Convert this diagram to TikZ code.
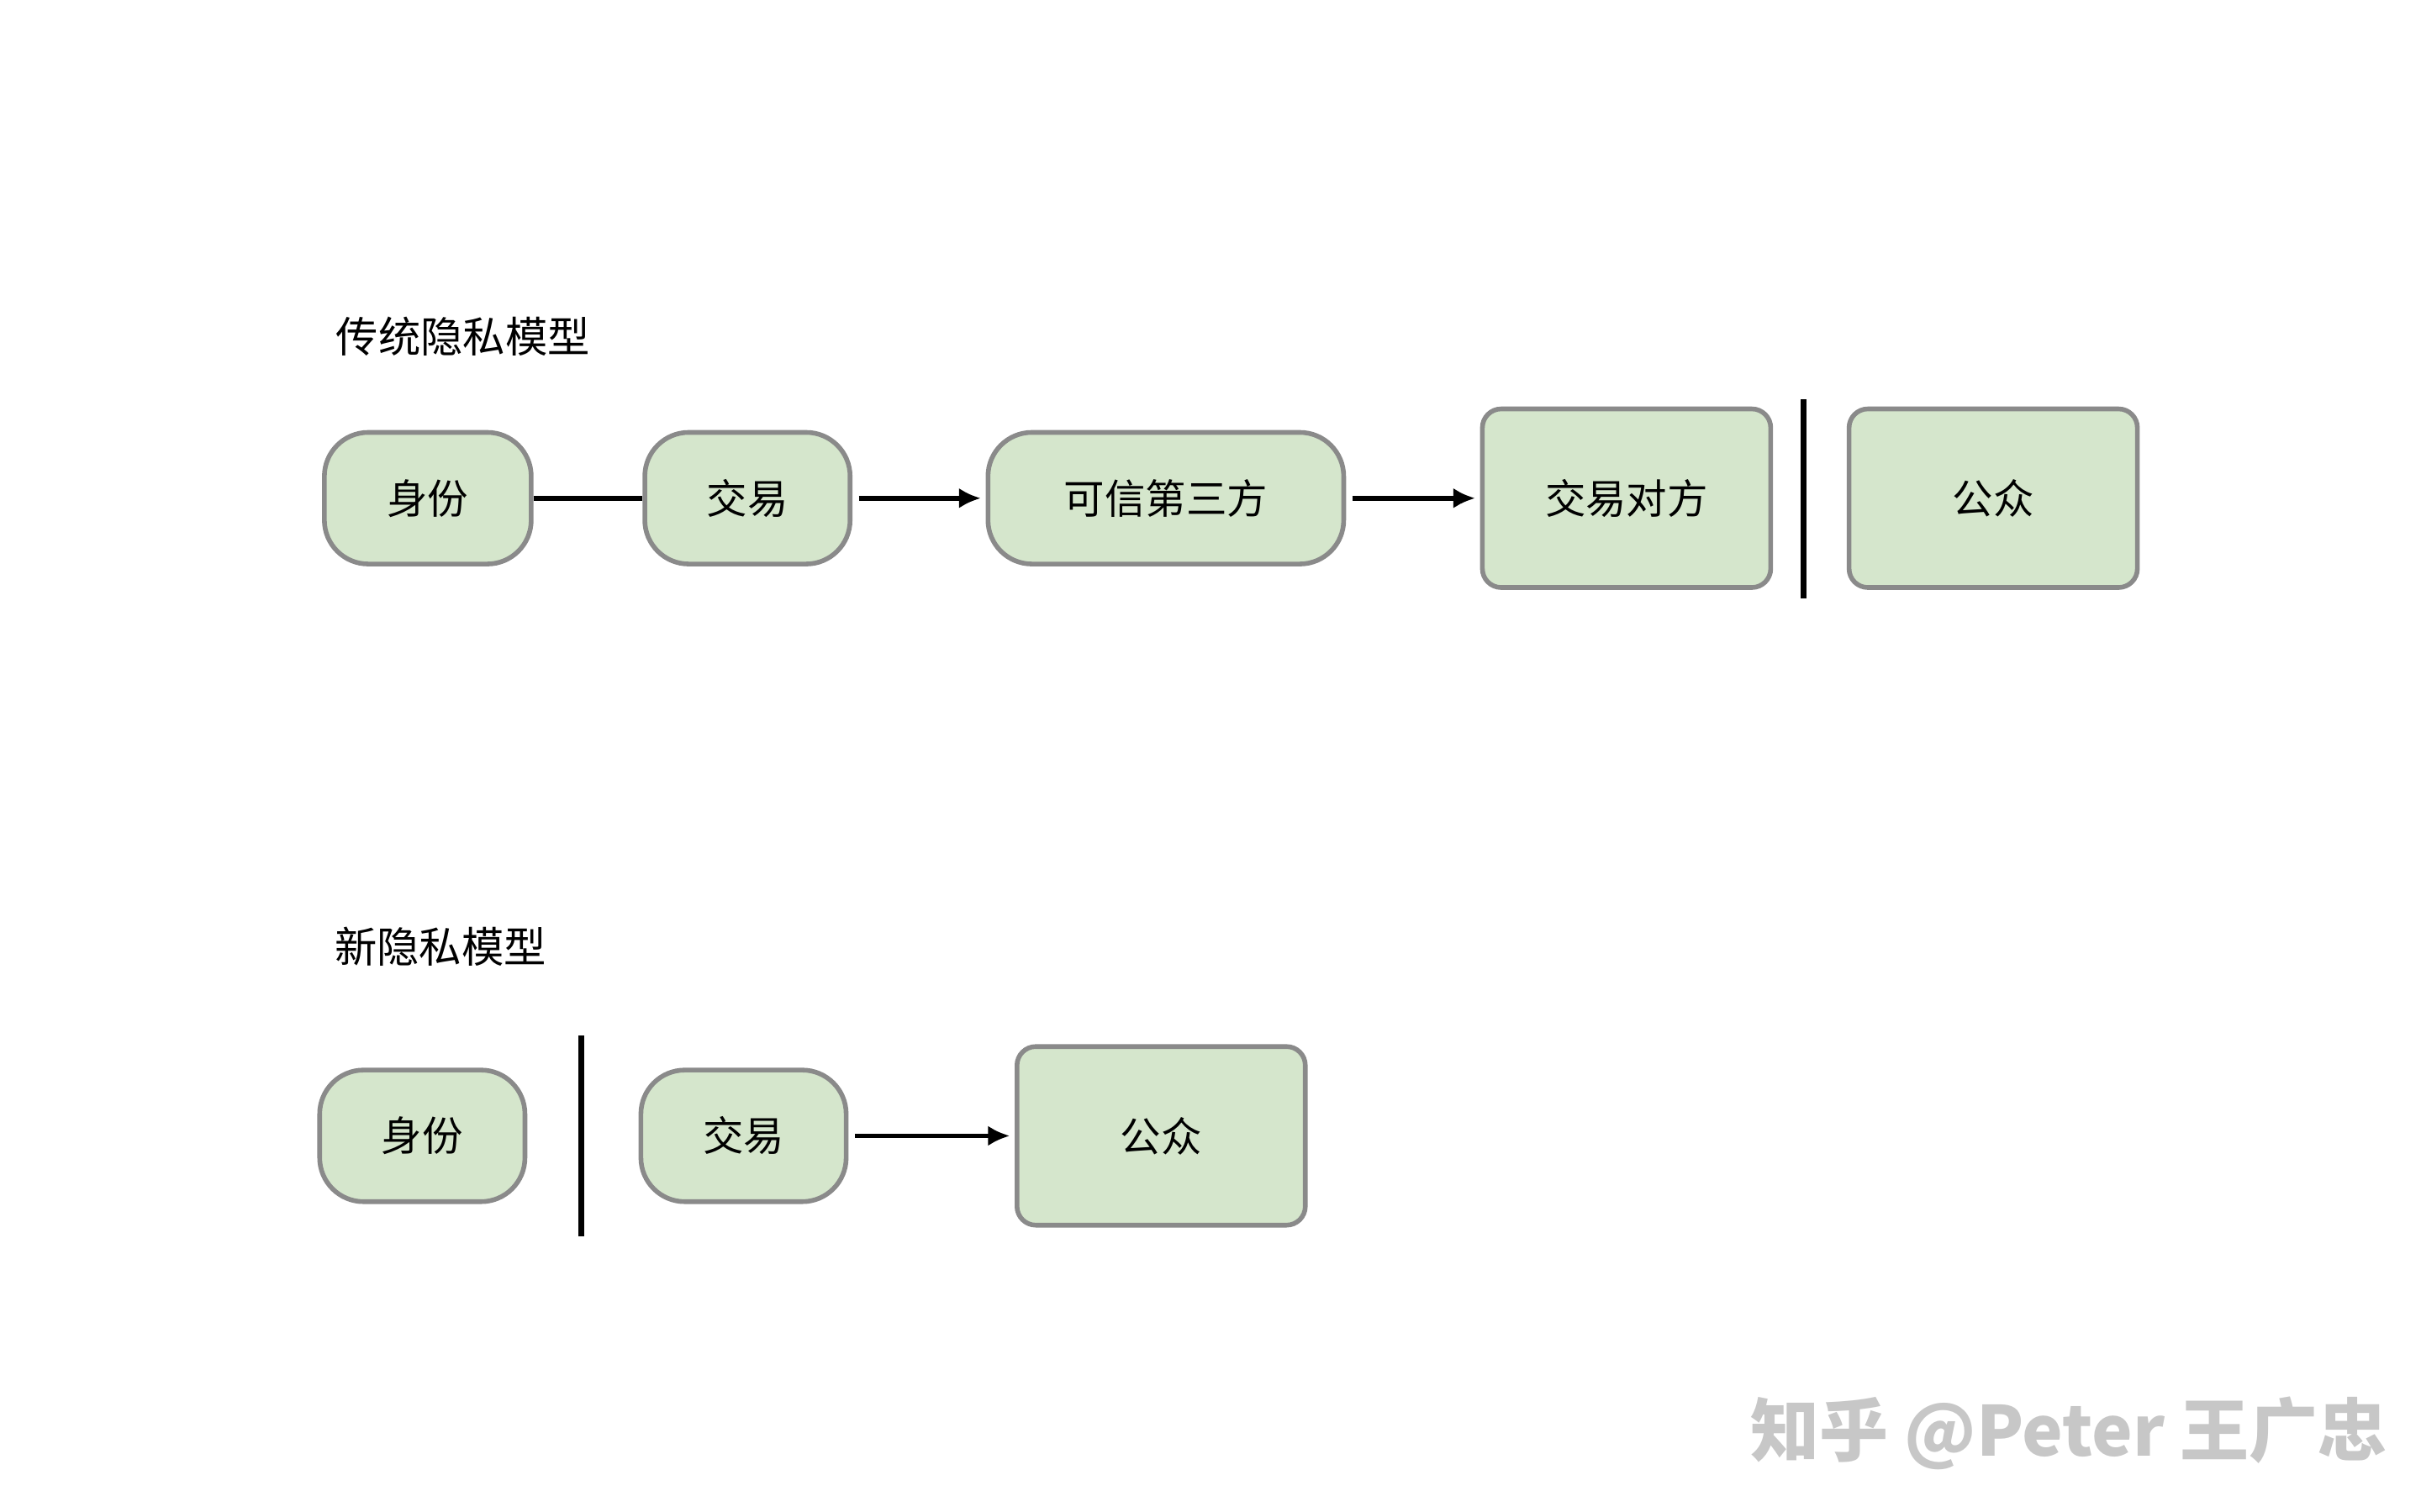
\documentclass[tikz,border=0pt]{standalone}
\usepackage{fontspec}
\setmainfont{Noto Sans CJK SC}
\usetikzlibrary{arrows.meta}
\definecolor{boxfill}{HTML}{D5E6CC}
\definecolor{boxline}{HTML}{8A8A8A}
\tikzset{
    stage/.style = {draw = boxline, fill = boxfill, line width = 3pt,
        rounded corners = 28pt, minimum height = 84pt, font = \fontsize{26pt}{30pt}\selectfont},
    party/.style = {draw = boxline, fill = boxfill, line width = 3pt,
        rounded corners = 12pt, minimum width = 184pt, minimum height = 114pt,
        font = \fontsize{26pt}{30pt}\selectfont},
    link/.style = {line width = 3pt},
    flow/.style = {line width = 3pt, -{Latex[length=14pt, width=13pt]}},
    wall/.style = {line width = 3.5pt},
    title/.style = {anchor = west, font = \fontsize{27pt}{32pt}\selectfont}
}
\begin{document}
\begin{tikzpicture}[x = 1pt, y = -1pt]
        \useasboundingbox (0, 0) rectangle (1545, 965);

        % Traditional model.
        \node[title] (t1) at (211, 215) {传统隐私模型};
        \node[stage, minimum width = 132pt] (id1) at (273, 318) {身份};
        \node[stage, minimum width = 131pt] (tx1) at (477, 318) {交易};
        \node[stage, minimum width = 227pt] (ttp) at (744, 318) {可信第三方};
        \node[party] (cp) at (1038, 318) {交易对方};
        \node[party] (pub1) at (1272, 318) {公众};
        \coordinate (w1a) at (1151, 255);
        \coordinate (w1b) at (1151, 382);

        \draw[link] (id1) -- (tx1);
        \draw[flow] ([xshift = 4pt]tx1.east) -- ([xshift = -3pt]ttp.west);
        \draw[flow] ([xshift = 4pt]ttp.east) -- ([xshift = -3pt]cp.west);
        \draw[wall] (w1a) -- (w1b);

        % New model.
        \node[title] (t2) at (210, 604) {新隐私模型};
        \node[stage, minimum width = 131pt] (id2) at (269.5, 725) {身份};
        \node[stage, minimum width = 131pt] (tx2) at (474.5, 725) {交易};
        \node[party] (pub2) at (741, 725) {公众};
        \coordinate (w2a) at (371, 661);
        \coordinate (w2b) at (371, 789);

        \draw[flow] ([xshift = 4pt]tx2.east) -- ([xshift = -3pt]pub2.west);
        \draw[wall] (w2a) -- (w2b);

        % Watermark.
        \node[anchor = east, text = black!22, font = \fontsize{44pt}{50pt}\selectfont\bfseries]
            (mark) at (1527, 915) {知乎 @Peter 王广忠};
    \end{tikzpicture}
\end{document}
